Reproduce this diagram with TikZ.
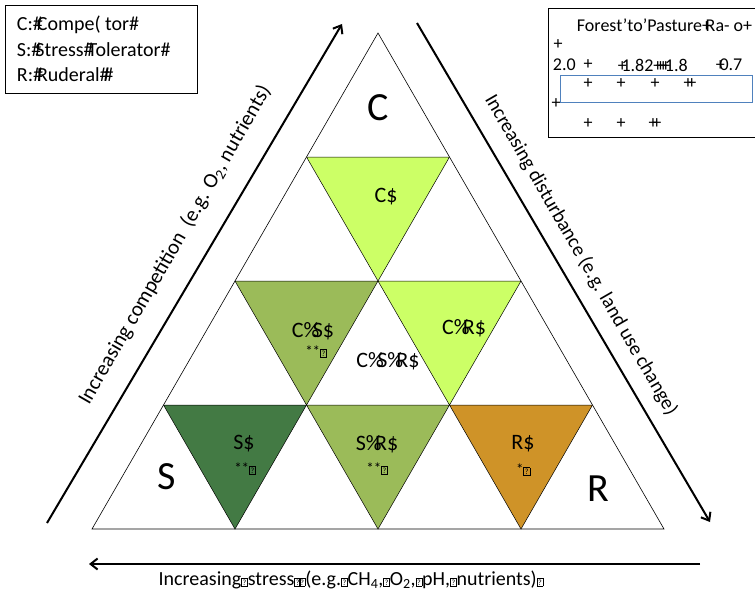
\documentclass[tikz,border=0pt]{standalone}
\usepackage{fontspec}
\setmainfont{Carlito}
\usetikzlibrary{arrows.meta}
\definecolor{lightgrn}{RGB}{204,255,102}
\definecolor{olivegrn}{RGB}{155,187,89}
\definecolor{darkgrn}{RGB}{67,122,68}
\definecolor{ochre}{RGB}{207,147,40}
\definecolor{boxblue}{RGB}{79,129,189}
\newcommand{\tofu}{{\setlength{\fboxsep}{1pt}\setlength{\fboxrule}{0.4pt}\raisebox{0.5pt}{\fbox{\fontsize{8}{8}\selectfont ?}}}}
\newcommand{\pc}{\%\kern-0.3em}
\newcommand{\hs}{\#\kern-0.3em}
\tikzset{
  trifill/.style={draw=black, line width=0.5pt},
  axisarrow/.style={line width=2pt, -{Straight Barb[length=7pt,width=11pt,line width=2pt]}},
  trilabel/.style={inner sep=0.75pt, font=\fontsize{22}{22}\selectfont},
  starlabel/.style={inner sep=0.75pt, font=\fontsize{15}{15}\selectfont},
  cornerlabel/.style={inner sep=0.75pt, font=\fontsize{40}{40}\selectfont},
  axislabel/.style={inner sep=0.75pt, font=\fontsize{20}{20}\selectfont},
  legendtext/.style={inner sep=0.75pt, anchor=west, font=\fontsize{20}{20}\selectfont},
  tabletext/.style={inner sep=0.75pt, font=\fontsize{18}{18}\selectfont}
}
\begin{document}
\begin{tikzpicture}[x=1pt,y=1pt,yscale=-1,xscale=1]
\useasboundingbox (0,0) rectangle (755,594);

%Shape: big triangle
\coordinate (apex) at (378,33);
\coordinate (left) at (92,529);
\coordinate (right) at (664,529);
\draw [line width=0.6pt] (apex) -- (left) -- (right) -- cycle ;

%Shape: row 2 inverted triangle
\draw [trifill, fill=lightgrn] (306.5,157) -- (449.5,157) -- (378,281) -- cycle ;
%Shape: row 3 inverted triangles
\draw [trifill, fill=olivegrn] (235,281) -- (378,281) -- (306.5,405) -- cycle ;
\draw [trifill, fill=lightgrn] (378,281) -- (521,281) -- (449.5,405) -- cycle ;
%Shape: row 4 inverted triangles
\draw [trifill, fill=darkgrn] (163.5,405) -- (306.5,405) -- (235,529) -- cycle ;
\draw [trifill, fill=olivegrn] (306.5,405) -- (449.5,405) -- (378,529) -- cycle ;
\draw [trifill, fill=ochre] (449.5,405) -- (592.5,405) -- (521,529) -- cycle ;

%Arrows along the sides
\coordinate (compA) at (47,523);
\coordinate (compB) at (342,24);
\coordinate (distA) at (417,23);
\coordinate (distB) at (710,522);
\coordinate (strA) at (700,564);
\coordinate (strB) at (89,564);
\draw [axisarrow] (compA) -- (compB) ;
\draw [axisarrow] (distA) -- (distB) ;
\draw [axisarrow] (strA) -- (strB) ;

% Corner labels
\node [cornerlabel] (cornerC) at (378,108) {C};
\node [cornerlabel] (cornerS) at (167,477) {S};
\node [cornerlabel] (cornerR) at (598,489) {R};

% Triangle labels
\node [trilabel] (labC) at (386,197) {C\$};
\node [trilabel] (labCS) at (313,331) {C\pc S\$};
\node [starlabel] (starCS) at (316,352) {**\tofu};
\node [trilabel] (labCR) at (464,328) {C\pc R\$};
\node [trilabel] (labCSR) at (388,361) {C\pc S\pc R\$};
\node [trilabel] (labS) at (244,444) {S\$};
\node [starlabel] (starS) at (245,469) {**\tofu};
\node [trilabel] (labSR) at (377,444) {S\pc R\$};
\node [starlabel] (starSR) at (377,469) {**\tofu};
\node [trilabel] (labR) at (523,444) {R\$};
\node [starlabel] (starR) at (523,470) {*\tofu};

% Axis labels
\node [axislabel, rotate=60, font=\fontsize{21}{21}\selectfont] (compLab) at (175,245) {Increasing competition\ \ (e.g. O\textsubscript{2}, nutrients)};
\node [axislabel, rotate=-60] (distLab) at (581,255) {Increasing disturbance (e.g. land use change)};
\node [axislabel] (strLab) at (351,580) {Increasing\tofu stress\tofu\kern-2pt\tofu(e.g.\tofu CH\textsubscript{4},\tofu O\textsubscript{2},\tofu pH,\tofu nutrients)\tofu};

% Legend box
\draw [line width=0.6pt] (5,5) rectangle (197,93) ;
\node [legendtext] (legC) at (16,25) {C:\hs Compe( tor\#};
\node [legendtext] (legS) at (16,50) {S:\hs Stress\hs Tolerator\#};
\node [legendtext] (legR) at (16,75) {R:\hs Ruderal\hs\#};

% Table box
\draw [line width=0.6pt] (755,8) -- (548,8) -- (548,137) -- (755,137) ;
\draw [boxblue, line width=0.8pt] (560,75) rectangle (752,102) ;
\node [tabletext, anchor=west] (tabHead) at (576,25) {Forest'to'Pasture+\kern-0.3em Ra- o+};
\node [tabletext] (tabP1) at (558,45) {+};
\node [tabletext, anchor=west] (tabV1) at (552,65) {2.0};
\node [tabletext] (tabP2) at (588,65) {+};
\node [tabletext, anchor=west] (tabV2) at (617,65) {+\kern-0.3em 1.82+\kern-0.35em+\kern-0.35em+\kern-0.35em+\kern-0.3em 1.8};
\node [tabletext, anchor=west] (tabV3) at (715,65) {+\kern-0.3em 0.7};
\node [tabletext] (tabP3) at (588,84) {+};
\node [tabletext] (tabP4) at (621,84) {+};
\node [tabletext] (tabP5) at (655,84) {+};
\node [tabletext] (tabP6) at (690,84) {+\kern-0.3em+};
\node [tabletext] (tabP7) at (556,104) {+};
\node [tabletext] (tabP8) at (588,124) {+};
\node [tabletext] (tabP9) at (621,124) {+};
\node [tabletext] (tabP10) at (655,124) {+\kern-0.3em+};
\end{tikzpicture}
\end{document}
